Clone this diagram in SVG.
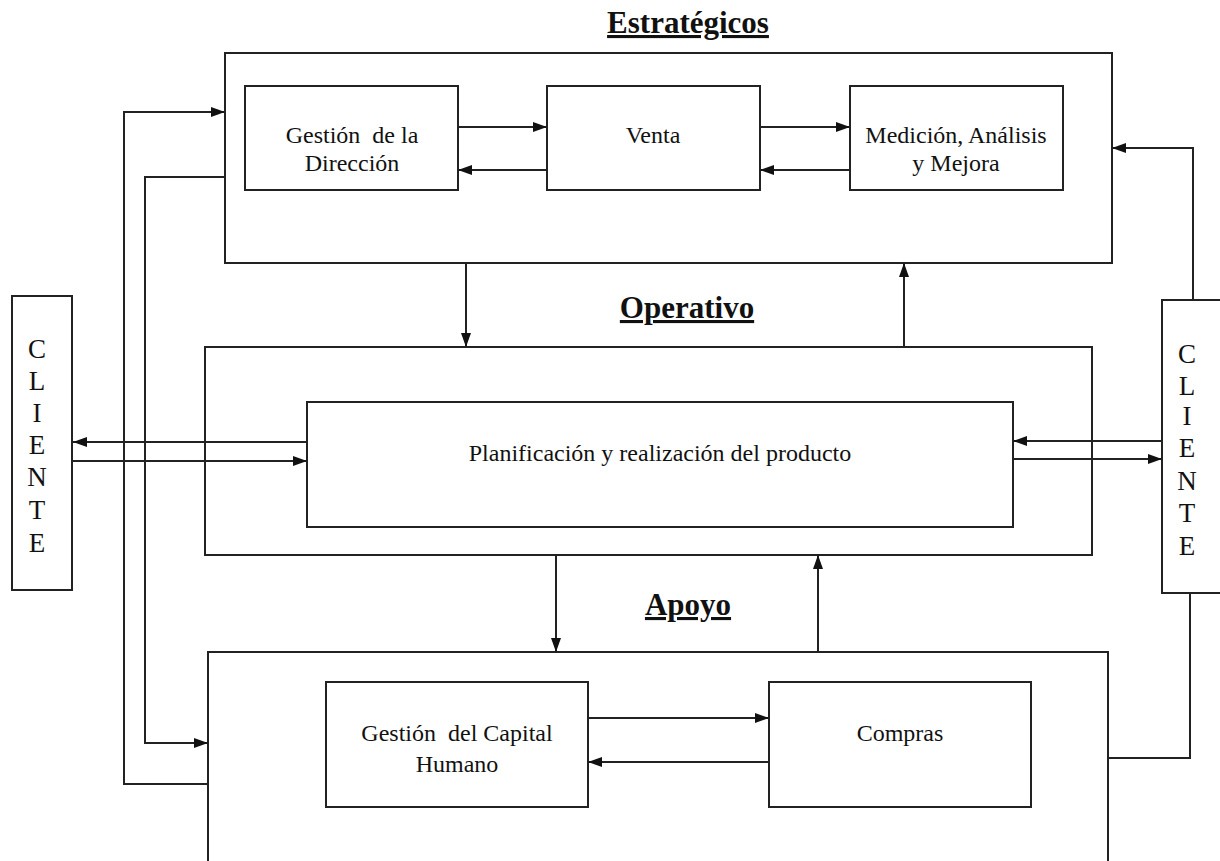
<svg xmlns="http://www.w3.org/2000/svg" width="1220" height="861" viewBox="0 0 1220 861">
  <style>
    .box { fill: #fff; stroke: #222; stroke-width: 2; }
    .ln { fill: none; stroke: #222; stroke-width: 2; }
    .lbl { font-family: "Liberation Serif", "Times New Roman", serif; font-size: 24px; fill: #111; text-anchor: middle; }
    .cli { font-family: "Liberation Serif", "Times New Roman", serif; font-size: 27px; fill: #111; text-anchor: middle; }
    .ttl { font-family: "Liberation Serif", "Times New Roman", serif; font-size: 31px; font-weight: bold; fill: #111; text-anchor: middle; text-decoration: underline; }
  </style>
  <defs>
    <marker id="ah" viewBox="0 0 14 10" refX="14" refY="5" markerWidth="14" markerHeight="10" markerUnits="userSpaceOnUse" orient="auto">
      <path d="M0,0 L14,5 L0,10 Z" fill="#111"/>
    </marker>
  </defs>
  <rect width="1220" height="861" fill="#fff"/>

  <!-- layer titles -->
  <text class="ttl" x="688" y="33">Estratégicos</text>
  <text class="ttl" x="687" y="318">Operativo</text>
  <text class="ttl" x="688" y="615">Apoyo</text>

  <!-- strategic layer -->
  <g id="estrategicos">
    <rect class="box" x="225" y="53" width="887" height="210"/>
  </g>
  <g id="gestion-direccion">
    <rect class="box" x="245" y="86" width="213" height="104"/>
    <text class="lbl" x="352" y="143" xml:space="preserve">Gestión  de la</text>
    <text class="lbl" x="352" y="171">Dirección</text>
  </g>
  <g id="venta">
    <rect class="box" x="547" y="86" width="213" height="104"/>
    <text class="lbl" x="653" y="143">Venta</text>
  </g>
  <g id="medicion">
    <rect class="box" x="850" y="86" width="213" height="104"/>
    <text class="lbl" x="956" y="143">Medición, Análisis</text>
    <text class="lbl" x="956" y="171">y Mejora</text>
  </g>

  <!-- operative layer -->
  <g id="operativo">
    <rect class="box" x="205" y="347" width="887" height="208"/>
  </g>
  <g id="planificacion">
    <rect class="box" x="307" y="402" width="706" height="125"/>
    <text class="lbl" x="660" y="461">Planificación y realización del producto</text>
  </g>

  <!-- support layer -->
  <g id="apoyo">
    <rect class="box" x="208" y="652" width="900" height="215"/>
  </g>
  <g id="capital-humano">
    <rect class="box" x="326" y="682" width="262" height="125"/>
    <text class="lbl" x="457" y="741" xml:space="preserve">Gestión  del Capital</text>
    <text class="lbl" x="457" y="772">Humano</text>
  </g>
  <g id="compras">
    <rect class="box" x="769" y="682" width="262" height="125"/>
    <text class="lbl" x="900" y="741">Compras</text>
  </g>

  <!-- customers -->
  <g id="cliente-izq">
    <rect class="box" x="12" y="296" width="60" height="294"/>
    <text class="cli" x="37" y="358">C</text>
    <text class="cli" x="37" y="390">L</text>
    <text class="cli" x="37" y="422">I</text>
    <text class="cli" x="37" y="454">E</text>
    <text class="cli" x="37" y="486">N</text>
    <text class="cli" x="37" y="519">T</text>
    <text class="cli" x="37" y="552">E</text>
  </g>
  <g id="cliente-der">
    <rect class="box" x="1162" y="300" width="70" height="293"/>
    <text class="cli" x="1187" y="363">C</text>
    <text class="cli" x="1187" y="395">L</text>
    <text class="cli" x="1187" y="425">I</text>
    <text class="cli" x="1187" y="457">E</text>
    <text class="cli" x="1187" y="490">N</text>
    <text class="cli" x="1187" y="522">T</text>
    <text class="cli" x="1187" y="555">E</text>
  </g>

  <g id="connectors">
    <!-- within strategic -->
    <line class="ln" x1="458" y1="127" x2="547" y2="127" marker-end="url(#ah)"/>
    <line class="ln" x1="547" y1="170" x2="458" y2="170" marker-end="url(#ah)"/>
    <line class="ln" x1="760" y1="127" x2="850" y2="127" marker-end="url(#ah)"/>
    <line class="ln" x1="850" y1="170" x2="760" y2="170" marker-end="url(#ah)"/>
    <!-- between layers -->
    <line class="ln" x1="466" y1="263" x2="466" y2="347" marker-end="url(#ah)"/>
    <line class="ln" x1="904" y1="347" x2="904" y2="263" marker-end="url(#ah)"/>
    <line class="ln" x1="556" y1="555" x2="556" y2="652" marker-end="url(#ah)"/>
    <line class="ln" x1="818" y1="652" x2="818" y2="555" marker-end="url(#ah)"/>
    <!-- customers and product -->
    <line class="ln" x1="307" y1="442" x2="73" y2="442" marker-end="url(#ah)"/>
    <line class="ln" x1="72" y1="461" x2="307" y2="461" marker-end="url(#ah)"/>
    <line class="ln" x1="1162" y1="441" x2="1013" y2="441" marker-end="url(#ah)"/>
    <line class="ln" x1="1013" y1="459" x2="1162" y2="459" marker-end="url(#ah)"/>
    <!-- within support -->
    <line class="ln" x1="588" y1="718" x2="769" y2="718" marker-end="url(#ah)"/>
    <line class="ln" x1="769" y1="762" x2="588" y2="762" marker-end="url(#ah)"/>
    <!-- left loops -->
    <polyline class="ln" points="208,784 124,784 124,112 225,112" marker-end="url(#ah)"/>
    <polyline class="ln" points="225,177 145,177 145,743 208,743" marker-end="url(#ah)"/>
    <!-- right loop -->
    <polyline class="ln" points="1193,300 1193,148 1112,148" marker-end="url(#ah)"/>
    <polyline class="ln" points="1190,593 1190,758 1108,758"/>
  </g>
</svg>
